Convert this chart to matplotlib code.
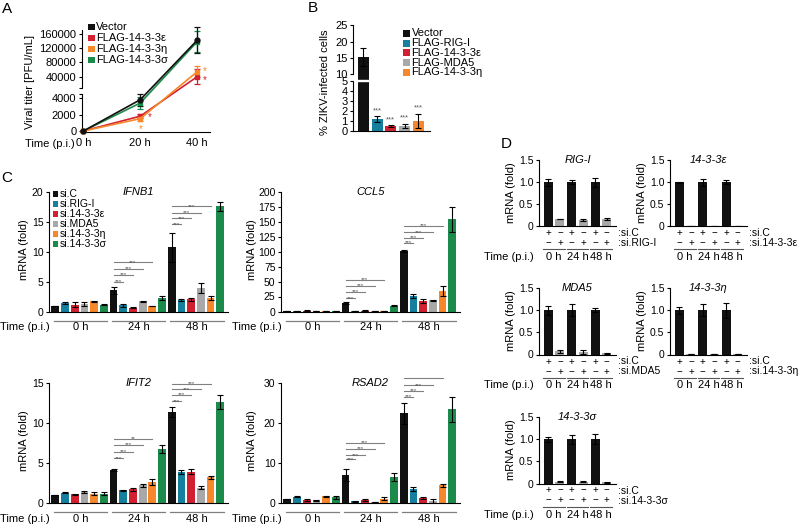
import numpy as np
import matplotlib
matplotlib.use('Agg')
import matplotlib.pyplot as plt
from matplotlib.patches import Rectangle

plt.rcParams['font.family'] = ['Liberation Sans', 'DejaVu Sans']
plt.rcParams['font.size'] = 7.5
plt.rcParams['axes.linewidth'] = 0.8

BLACK = '#111111'
TEAL = '#15809d'
RED = '#d22030'
GRAY = '#a8a8a8'
ORANGE = '#f6872a'
GREEN = '#1a8b4a'
STAR_GRAY = '#555555'
LINE_GRAY = '#808080'

# ---- A: viral titer ----
A_TIMES = [0, 20, 40]
A_TICKS = ['0 h', '20 h', '40 h']
A_LABELS = ['Vector', 'FLAG-14-3-3ε', 'FLAG-14-3-3η', 'FLAG-14-3-3σ']
A_VECTOR = [0, 3800, 142000]
A_VECTOR_ERR = [0, 800, 37000]
A_EPS = [0, 1800, 40000]
A_EPS_ERR = [0, 250, 21000]
A_ETA = [0, 1500, 54000]
A_ETA_ERR = [0, 300, 15000]
A_SIGMA = [0, 3400, 138000]
A_SIGMA_ERR = [0, 700, 30000]

# ---- B: % infected ----
B_LABELS = ['Vector', 'FLAG-RIG-I', 'FLAG-14-3-3ε', 'FLAG-MDA5', 'FLAG-14-3-3η']
B_VALUES = [15.3, 1.2, 0.5, 0.55, 1.05]
B_ERR = [2.7, 0.3, 0.07, 0.2, 0.7]
B_STARS = ['', '***', '***', '***', '***']

# ---- C: qPCR, 6 siRNAs x 3 time points ----
C_LABELS = ['si.C', 'si.RIG-I', 'si.14-3-3ε', 'si.MDA5', 'si.14-3-3η', 'si.14-3-3σ']
C_TIMES = ['0 h', '24 h', '48 h']
IFNB1 = [1.0, 1.5, 1.25, 1.3, 1.8, 1.2, 3.6, 1.1, 0.7, 1.8, 1.0, 2.3, 10.8, 2.0, 2.1, 4.0, 2.4, 17.6]
IFNB1_ERR = [0.05, 0.1, 0.35, 0.3, 0.1, 0.1, 0.6, 0.2, 0.1, 0.05, 0.05, 0.35, 2.4, 0.15, 0.3, 0.8, 0.35, 0.7]
IFNB1_SIG = [[5.05, 6.2, 7.2, 8.3], [14.6, 15.6, 16.5, 17.6]]
CCL5 = [1, 1.2, 1.5, 1, 1.2, 1, 14.5, 1.2, 1.5, 0.8, 1.0, 10, 101, 26, 17.5, 18.5, 34, 153.5]
CCL5_ERR = [0.3, 0.3, 0.3, 0.3, 0.3, 0.3, 2, 0.3, 0.5, 0.2, 0.3, 1, 2, 3, 3, 1, 8, 21]
CCL5_SIG = [[22, 32.6, 42.5, 53], [115, 123, 132, 142.5]]
IFIT2 = [1.0, 1.3, 1.1, 1.4, 1.15, 1.15, 4.1, 1.6, 1.7, 2.2, 2.6, 6.8, 11.4, 3.9, 3.9, 1.9, 3.2, 12.6]
IFIT2_ERR = [0.05, 0.08, 0.08, 0.15, 0.2, 0.2, 0.15, 0.05, 0.2, 0.2, 0.4, 0.5, 0.6, 0.25, 0.3, 0.2, 0.15, 0.9]
IFIT2_SIG = [[5.6, 6.4, 7.3, 8.0], [12.7, 13.5, 14.2, 14.9]]
RSAD2 = [1.0, 1.6, 0.8, 0.7, 1.7, 1.4, 7.0, 0.4, 0.7, 0.3, 1.1, 6.5, 22.4, 3.4, 1.2, 0.6, 4.4, 23.4]
RSAD2_ERR = [0.1, 0.2, 0.2, 0.1, 0.1, 0.3, 1.5, 0.1, 0.2, 0.05, 0.3, 0.9, 2.6, 0.5, 0.2, 0.5, 0.3, 3.1]
RSAD2_SIG = [[10.9, 11.9, 13.5, 15.0], [26.5, 28, 29.4, 31.3]]
STARS_ALL = [['***'] * 4, ['***'] * 4]
STARS_IFIT2 = [['***', '***', '***', '**'], ['***'] * 4]

# ---- D: knockdown efficiency (si.C / siX pairs at 0, 24, 48 h) ----
D_SIGN_C = ['+', '−', '+', '−', '+', '−']
D_SIGN_X = ['−', '+', '−', '+', '−', '+']
D_TIMES = ['0 h', '24 h', '48 h']
D_RIGI = [1.0, 0.17, 1.0, 0.14, 1.0, 0.17]
D_RIGI_ERR = [0.08, 0.01, 0.05, 0.02, 0.1, 0.02]
D_EPS = [1.0, 0.01, 1.0, 0.01, 1.0, 0.01]
D_EPS_ERR = [0.01, 0.0, 0.08, 0.0, 0.04, 0.0]
D_MDA5 = [1.0, 0.07, 1.0, 0.06, 1.0, 0.03]
D_MDA5_ERR = [0.1, 0.03, 0.13, 0.04, 0.05, 0.01]
D_ETA = [1.0, 0.005, 1.0, 0.005, 1.0, 0.005]
D_ETA_ERR = [0.08, 0.0, 0.13, 0.0, 0.17, 0.0]
D_SIGMA = [1.0, 0.04, 1.0, 0.04, 1.0, 0.03]
D_SIGMA_ERR = [0.06, 0.01, 0.1, 0.01, 0.11, 0.01]

W, H = 800, 526
fig = plt.figure(figsize=(8, 5.26), dpi=100)


def fx(px):
    return px / W


def fy(py):
    return 1 - py / H


def add_ax(left, top, right, bottom):
    return fig.add_axes([fx(left), fy(bottom), (right - left) / W, (bottom - top) / H])


def style(ax, labelsize=7.5):
    for s in ['top', 'right']:
        ax.spines[s].set_visible(False)
    ax.tick_params(length=2.5, width=0.8, pad=1.5, labelsize=labelsize)


def broken_scale(vals, hts):
    # piecewise linear y mapping to fake a broken axis
    v = list(vals)
    h = list(hts)
    s0 = (h[1] - h[0]) / (v[1] - v[0])
    s1 = (h[-1] - h[-2]) / (v[-1] - v[-2])
    span = (v[-1] - v[0]) * 100
    v = [v[0] - span] + v + [v[-1] + span]
    h = [h[0] - span * s0] + h + [h[-1] + span * s1]
    v = np.array(v)
    h = np.array(h)
    return (lambda x: np.interp(x, v, h)), (lambda y: np.interp(y, h, v))


def legend_box(x, y, dy, labels, colors, size, fs):
    for i, (lab, col) in enumerate(zip(labels, colors)):
        yy = y + i * dy
        fig.add_artist(Rectangle((fx(x - size / 2), fy(yy + size / 2)), size / W, size / H,
                                 transform=fig.transFigure, color=col, lw=0))
        fig.text(fx(x + size / 2 + 1.5), fy(yy), lab, fontsize=fs, ha='left', va='center')


def ylab(x, y, s):
    fig.text(fx(x), fy(y), s, rotation=90, ha='center', va='center', fontsize=8)


ekw = dict(ecolor='black', elinewidth=0.8, capsize=2, capthick=0.8)

# ================= A =================
axA = add_ax(82, 30.2, 210, 132)
fA, iA = broken_scale([-121, 4500, 8400, 170000], [0, 38.1, 44.0, 101.8])
axA.set_yscale('function', functions=(fA, iA))
axA.set_ylim(-121, 170000)
axA.set_xlim(-0.5, 44.5)
style(axA)
axA.spines['left'].set_visible(False)
yt = axA.get_yaxis_transform()
axA.plot([0, 0], [-121, 4500], transform=yt, color='k', lw=0.8, clip_on=False)
axA.plot([0, 0], [8400, 170000], transform=yt, color='k', lw=0.8, clip_on=False)
axA.set_yticks([0, 2000, 4000, 4500, 8400, 40000, 80000, 120000, 160000])
axA.set_yticklabels(['0', '2000', '4000', '', '', '40000', '80000', '120000', '160000'])
axA.minorticks_off()
axA.set_xticks(A_TIMES, A_TICKS, fontsize=8)
axA.tick_params(axis='x', length=0, pad=4.5)
axA.tick_params(axis='y', labelsize=8)
for vals, errs, col, mk in [(A_SIGMA, A_SIGMA_ERR, GREEN, 's'), (A_EPS, A_EPS_ERR, RED, 's'),
                            (A_ETA, A_ETA_ERR, ORANGE, 's'), (A_VECTOR, A_VECTOR_ERR, BLACK, 'o')]:
    axA.errorbar(A_TIMES, vals, yerr=errs, color=col, marker=mk, ms=3.5, lw=1.2,
                 capsize=2.5, elinewidth=0.9, capthick=0.9, clip_on=False, zorder=3)
# significance stars next to points
axA.annotate('*', (A_TIMES[1], A_EPS[1]), xytext=(9, -4), textcoords='offset pixels', color=RED, fontsize=7, ha='center')
axA.annotate('*', (A_TIMES[1], A_ETA[1]), xytext=(0, -13), textcoords='offset pixels', color=ORANGE, fontsize=7, ha='center')
axA.annotate('*', (A_TIMES[2], A_ETA[2]), xytext=(8, -2), textcoords='offset pixels', color=ORANGE, fontsize=7, ha='center')
axA.annotate('*', (A_TIMES[2], A_EPS[2]), xytext=(8, -6), textcoords='offset pixels', color=RED, fontsize=7, ha='center')
legend_box(91.5, 27, 11, A_LABELS, [BLACK, RED, ORANGE, GREEN], 6.5, 8)
ylab(30, 82, 'Viral titer [PFU/mL]')
fig.text(fx(75), fy(144), 'Time (p.i.)', ha='right', va='center', fontsize=8)

# ================= B =================
axB = add_ax(353, 25.5, 430, 131)
fB, iB = broken_scale([0, 5, 10, 25], [0, 49.5, 56.5, 105.5])
axB.set_yscale('function', functions=(fB, iB))
axB.set_ylim(0, 25)
axB.set_xlim(-0.75, 4.85)
style(axB)
axB.spines['left'].set_visible(False)
ytb = axB.get_yaxis_transform()
axB.plot([0, 0], [0, 5], transform=ytb, color='k', lw=0.8, clip_on=False)
axB.plot([0, 0], [10, 25], transform=ytb, color='k', lw=0.8, clip_on=False)
axB.set_yticks([0, 1, 2, 3, 4, 5, 10, 15, 20, 25])
axB.set_yticklabels(['0', '1', '2', '3', '4', '5', '10', '15', '20', '25'])
axB.minorticks_off()
axB.set_xticks([])
axB.tick_params(axis='y', labelsize=8)
B_COLORS = [BLACK, TEAL, RED, GRAY, ORANGE]
axB.bar(range(len(B_VALUES)), B_VALUES, width=0.8, color=B_COLORS, yerr=B_ERR, error_kw=ekw, zorder=2)
axB.axhspan(5.4, 6.3, xmin=0.01, xmax=0.3, color='white', zorder=3)
for i, s in enumerate(B_STARS):
    if s:
        axB.annotate(s, (i, B_VALUES[i] + B_ERR[i]), xytext=(0, 2), textcoords='offset pixels',
                     ha='center', va='bottom', fontsize=5.5, color=STAR_GRAY)
legend_box(406.5, 33.3, 9.75, B_LABELS, B_COLORS, 7, 8)
ylab(325, 82, '% ZIKV-infected cells')

# ================= C =================
C_COLORS = [BLACK, TEAL, RED, GRAY, ORANGE, GREEN]


def panel_c(left, top, title, mean, err, ymax, yticks, sig, stars, ylab_dx):
    ax = add_ax(left, top, left + 179, top + 120)
    style(ax)
    x = np.arange(len(mean))
    ax.bar(x, mean, width=0.8, color=C_COLORS * 3, yerr=err, error_kw=ekw, zorder=2)
    ax.set_xlim(-0.65, 17.8)
    ax.set_ylim(0, ymax)
    ax.set_yticks(yticks)
    ax.set_xticks([])
    ax.text(0.5, 1.0, title, transform=ax.transAxes, ha='center', va='center',
            style='italic', fontsize=8)
    for g, (hs, ss) in enumerate(zip(sig, stars)):
        x0 = (g + 1) * 6
        for k, (h, s) in enumerate(zip(hs, ss)):
            x1 = x0 + k + 1
            ax.plot([x0, x1], [h, h], color=LINE_GRAY, lw=0.8, clip_on=False)
            ax.annotate(s, ((x0 + x1) / 2, h), xytext=(0, -1.5), textcoords='offset pixels',
                        ha='center', va='baseline', fontsize=4.5, color=STAR_GRAY)
    tr = ax.get_xaxis_transform()
    for g, lab in enumerate(C_TIMES):
        ax.plot([g * 6 - 0.15, g * 6 + 5.35], [-9 / 120, -9 / 120], transform=tr,
                color=LINE_GRAY, lw=0.9, clip_on=False)
        ax.text(g * 6 + 2.6, -15.5 / 120, lab, transform=tr, ha='center', va='center', fontsize=8)
    fig.text(fx(left + 0.5), fy(top + 135.5), 'Time (p.i.)', ha='right', va='center', fontsize=8)
    ylab(left - ylab_dx, top + 58, 'mRNA (fold)')
    return ax


panel_c(49, 192, 'IFNB1', IFNB1, IFNB1_ERR, 20, [0, 5, 10, 15, 20], IFNB1_SIG, STARS_ALL, 25)
panel_c(281, 191.5, 'CCL5', CCL5, CCL5_ERR, 200, [0, 25, 50, 75, 100, 125, 150, 175, 200], CCL5_SIG, STARS_ALL, 29)
panel_c(49, 383, 'IFIT2', IFIT2, IFIT2_ERR, 15, [0, 5, 10, 15], IFIT2_SIG, STARS_IFIT2, 25)
panel_c(281, 383, 'RSAD2', RSAD2, RSAD2_ERR, 30, [0, 10, 20, 30], RSAD2_SIG, STARS_ALL, 29)
legend_box(55.5, 194, 10, C_LABELS, C_COLORS, 6, 7.5)

# ================= D =================


def panel_d(left, top, title, mean, err, si_label, time_label):
    hpx = 66.5
    ax = add_ax(left, top, left + 77, top + hpx)
    style(ax, labelsize=7.5)
    x = np.arange(len(mean))
    ax.bar(x, mean, width=0.78, color=[BLACK, GRAY] * 3, yerr=err, error_kw=ekw, zorder=2)
    ax.set_xlim(-0.78, 5.78)
    ax.set_ylim(0, 1.5)
    ax.set_yticks([0, 0.5, 1.0, 1.5], ['0', '0.5', '1.0', '1.5'])
    ax.set_xticks([])
    ax.text(0.5, 1.0, title, transform=ax.transAxes, ha='center', va='center',
            style='italic', fontsize=8)
    for i in x:
        ax.annotate(D_SIGN_C[i], (i, 0), xycoords=('data', 'axes fraction'), xytext=(0, -7),
                    textcoords='offset pixels', ha='center', va='center', fontsize=7)
        ax.annotate(D_SIGN_X[i], (i, 0), xycoords=('data', 'axes fraction'), xytext=(0, -17),
                    textcoords='offset pixels', ha='center', va='center', fontsize=7)
    ax.annotate(':si.C', (1, 0), xycoords='axes fraction', xytext=(2, -7),
                textcoords='offset pixels', ha='left', va='center', fontsize=7.5)
    ax.annotate(':' + si_label, (1, 0), xycoords='axes fraction', xytext=(2, -17),
                textcoords='offset pixels', ha='left', va='center', fontsize=7.5)
    tr = ax.get_xaxis_transform()
    for g, lab in enumerate(D_TIMES):
        ax.plot([2 * g - 0.42, 2 * g + 1.42], [-23 / hpx, -23 / hpx], transform=tr,
                color='#555555', lw=0.8, clip_on=False)
        ax.text(2 * g + 0.5, -31 / hpx, lab, transform=tr, ha='center', va='center', fontsize=8)
    if time_label:
        fig.text(fx(left - 5), fy(top + hpx + 31), 'Time (p.i.)', ha='right', va='center', fontsize=8)
    ylab(left - 28, top + 33, 'mRNA (fold)')
    return ax


panel_d(539, 160, 'RIG-I', D_RIGI, D_RIGI_ERR, 'si.RIG-I', True)
panel_d(670, 160, '14-3-3ε', D_EPS, D_EPS_ERR, 'si.14-3-3ε', False)
panel_d(539, 288, 'MDA5', D_MDA5, D_MDA5_ERR, 'si.MDA5', True)
panel_d(670, 288, '14-3-3η', D_ETA, D_ETA_ERR, 'si.14-3-3η', False)
panel_d(539, 417, '14-3-3σ', D_SIGMA, D_SIGMA_ERR, 'si.14-3-3σ', True)

# panel letters
for lab, (px, py) in {'A': (7.5, 9), 'B': (313, 8.5), 'C': (7, 178), 'D': (506, 144)}.items():
    fig.text(fx(px), fy(py), lab, fontsize=11, ha='center', va='center')

fig.savefig('out.png', dpi=100)
